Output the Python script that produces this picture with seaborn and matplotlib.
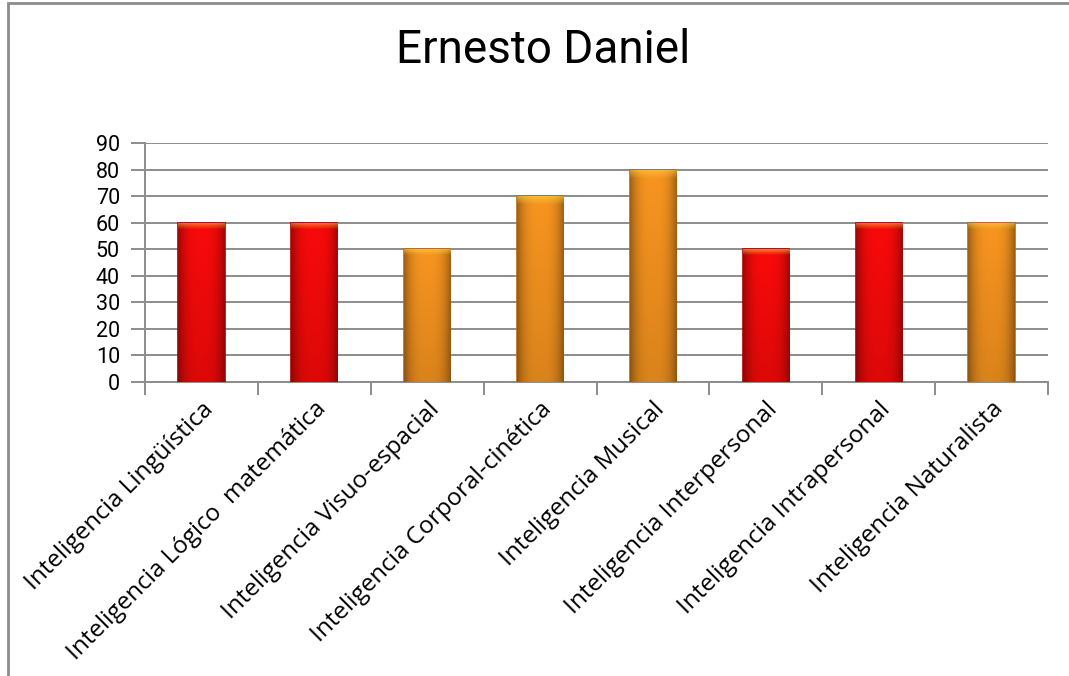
import matplotlib
matplotlib.use("Agg")
import matplotlib.pyplot as plt
from matplotlib.patches import Rectangle
from matplotlib.ticker import FixedLocator
from matplotlib.colors import to_rgb
import numpy as np
import seaborn as sns
import pandas as pd

# Scores per intelligence type
categories = [
    "Inteligencia Lingüística",
    "Inteligencia Lógico  matemática",
    "Inteligencia Visuo-espacial",
    "Inteligencia Corporal-cinética",
    "Inteligencia Musical",
    "Inteligencia Interpersonal",
    "Inteligencia Intrapersonal",
    "Inteligencia Naturalista",
]
scores = [60, 60, 50, 70, 80, 50, 60, 60]
bar_colors = ["#FA0A0A", "#FA0A0A", "#F8951F", "#F8951F",
              "#F8951F", "#FA0A0A", "#FA0A0A", "#F8951F"]
edge_colors = ["#B00000", "#B00000", "#C0680E", "#C0680E",
               "#C0680E", "#B00000", "#B00000", "#C0680E"]
y_ticks = [0, 10, 20, 30, 40, 50, 60, 70, 80, 90]
title = "Ernesto Daniel"

sns.set_theme(style="white")
plt.rcParams["font.family"] = ["Open Sans", "DejaVu Sans"]

df = pd.DataFrame({"categoria": categories, "valor": scores})

fig = plt.figure(figsize=(10.69, 6.76), dpi=100)
ax = fig.add_axes([145 / 1069, 1 - 382 / 676, (1048 - 145) / 1069, (382 - 143) / 676])

sns.barplot(data=df, x="categoria", y="valor", hue="categoria",
            palette=bar_colors, legend=False, width=0.41, ax=ax,
            saturation=1)

# shaded fill: darker toward the sides, lighter cap at the top
xs = np.linspace(-1, 1, 64)
side = 1 - 0.35 * np.abs(xs) ** 3
for patch, base, ec in zip(list(ax.patches), bar_colors, edge_colors):
    patch.set_edgecolor(ec)
    patch.set_linewidth(1.2)
    patch.set_zorder(3)
    x0, w, h = patch.get_x(), patch.get_width(), patch.get_height()
    rgb = np.array(to_rgb(base))
    ys = np.linspace(0, 1, 100)[:, None]
    top = np.clip((ys - 0.96) / 0.04, 0, 1)
    img = rgb[None, None, :] * side[None, :, None]
    img = img * (1 - 0.12 * (1 - ys[..., None]))
    light = np.array([1.0, 0.85, 0.3])
    img = img * (1 - 0.5 * top[..., None]) + light * 0.5 * top[..., None]
    im = ax.imshow(np.clip(img, 0, 1), extent=[x0, x0 + w, 0, h],
                   origin="lower", aspect="auto", zorder=3.2,
                   interpolation="bilinear")
    im.set_clip_path(patch)

ax.set_xlim(-0.5, len(categories) - 0.5)
ax.set_ylim(0, 90)
ax.set_aspect("auto")
ax.yaxis.set_major_locator(FixedLocator(y_ticks))
ax.grid(axis="y", color="#8c8c8c", linewidth=1.4, zorder=0)
ax.set_axisbelow(True)

for s in ["top", "right"]:
    ax.spines[s].set_visible(False)
for s in ["left", "bottom"]:
    ax.spines[s].set_color("#8c8c8c")
    ax.spines[s].set_linewidth(1.4)

ax.tick_params(axis="y", which="major", direction="out", length=10,
               width=1.4, color="#8c8c8c", left=True, pad=8,
               labelcolor="black")
for lbl in ax.get_yticklabels():
    lbl.set_fontfamily(["Roboto", "DejaVu Sans"])
    lbl.set_fontsize(15.5)

# category boundaries carry the x ticks; labels sit under the bar centres
ax.set_xticks(range(len(categories)))
ax.set_xticks([i - 0.5 for i in range(len(categories) + 1)], minor=True)
ax.tick_params(axis="x", which="minor", direction="out", length=9,
               width=1.4, color="#8c8c8c", bottom=True)
ax.tick_params(axis="x", which="major", length=0, pad=11)
ax.set_xticklabels(categories, rotation=45, ha="right",
                   rotation_mode="anchor", fontsize=17.5, color="black")
ax.set_xlabel("")
ax.set_ylabel("")

fig.text(0.508, 1 - 50 / 676, title, ha="center", va="center",
         fontsize=33, family=["Roboto", "DejaVu Sans"], color="black")

# chart area frame
fig.patches.append(Rectangle((8 / 1069, -0.2), 1.2, 0.2 + 1 - 3 / 676,
                             transform=fig.transFigure, fill=False,
                             edgecolor="#8c8c8c", linewidth=2))

fig.savefig("out.png", dpi=100)
